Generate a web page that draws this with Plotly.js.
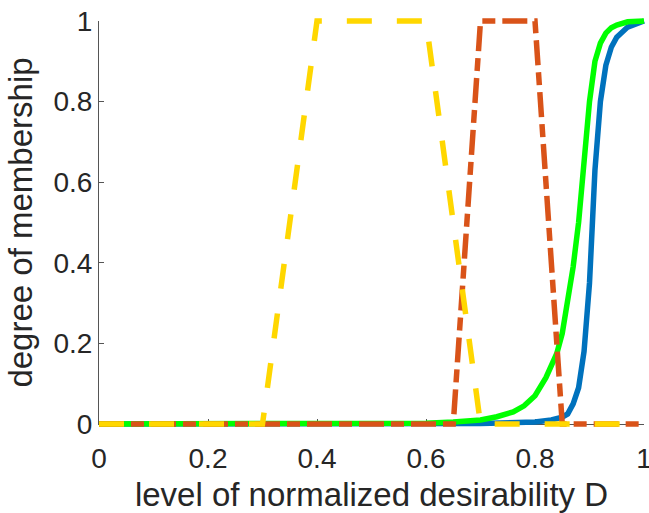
<!DOCTYPE html>
<html>
<head>
<meta charset="utf-8">
<script src="https://cdn.plot.ly/plotly-3.0.1.min.js"></script>
<style>html,body{margin:0;padding:0;background:#fff;}#chart{width:649px;height:513px;}</style>
</head>
<body>
<div id="chart"></div>
<script>
// Blue sigmoid-like membership
const blueX = [0, 0.7, 0.8, 0.83, 0.85, 0.86, 0.87, 0.88, 0.89, 0.9, 0.905, 0.91, 0.92, 0.93, 0.94, 0.95, 0.97, 1];
const blueY = [0, 0.001, 0.005, 0.01, 0.017, 0.025, 0.05, 0.09, 0.18, 0.35, 0.49, 0.63, 0.80, 0.89, 0.935, 0.96, 0.985, 1];
// Green membership
const greenX = [0, 0.5, 0.6, 0.65, 0.7, 0.73, 0.76, 0.78, 0.8, 0.82, 0.84, 0.85, 0.86, 0.87, 0.88, 0.89, 0.9, 0.91, 0.92, 0.93, 0.94, 0.95, 0.97, 1];
const greenY = [0, 0.0005, 0.002, 0.005, 0.01, 0.018, 0.03, 0.045, 0.07, 0.115, 0.175, 0.225, 0.30, 0.39, 0.50, 0.66, 0.80, 0.90, 0.945, 0.97, 0.983, 0.99, 0.998, 1];
// Orange trapezoid
const orangeX = [0, 0.65, 0.7, 0.8, 0.85, 1];
const orangeY = [0, 0, 1, 1, 0, 0];
// Yellow trapezoid
const yellowX = [0, 0.3, 0.4, 0.6, 0.7, 1];
const yellowY = [0, 0, 1, 1, 0, 0];
const tickVals = [0, 0.2, 0.4, 0.6, 0.8, 1];
const tickText = ['0', '0.2', '0.4', '0.6', '0.8', '1'];

const W = 5.5;
const traces = [
  {x: blueX, y: blueY, mode: 'lines', line: {color: '#0072BD', width: W}},
  {x: greenX, y: greenY, mode: 'lines', line: {color: '#00FF00', width: W}},
  {x: orangeX, y: orangeY, mode: 'lines', line: {color: '#D95319', width: W, dash: '25px,7px,13px,7px'}},
  {x: yellowX, y: yellowY, mode: 'lines', line: {color: '#FFD700', width: W, dash: '25px,25px'}}
];
const font = {family: '"Liberation Sans", Arial, sans-serif', color: '#262626'};
const axisCommon = {
  range: [0, 1], tickvals: tickVals, ticktext: tickText,
  ticks: 'inside', ticklen: 5, tickcolor: '#555', tickwidth: 1,
  showline: true, linecolor: '#555', linewidth: 1, mirror: false,
  showgrid: false, zeroline: false, layer: 'below traces',
  ticklabeloverflow: 'allow',
  tickfont: {family: font.family, color: font.color, size: 28}
};
const layout = {
  width: 649, height: 513,
  margin: {l: 99, r: 5, t: 21, b: 89},
  paper_bgcolor: '#fff', plot_bgcolor: '#fff',
  showlegend: false,
  xaxis: Object.assign({}, axisCommon, {
    ticklabelstandoff: 9,
    title: {text: 'level of normalized desirability D', font: {family: font.family, color: font.color, size: 33}, standoff: 13}
  }),
  yaxis: Object.assign({}, axisCommon, {
    title: {text: 'degree of membership', font: {family: font.family, color: font.color, size: 33}, standoff: 10}
  })
};
Plotly.newPlot('chart', traces, layout, {staticPlot: true}).then(function(){
  document.querySelectorAll('.cartesianlayer [clip-path]').forEach(function(e){ e.removeAttribute('clip-path'); });
});
</script>
</body>
</html>
